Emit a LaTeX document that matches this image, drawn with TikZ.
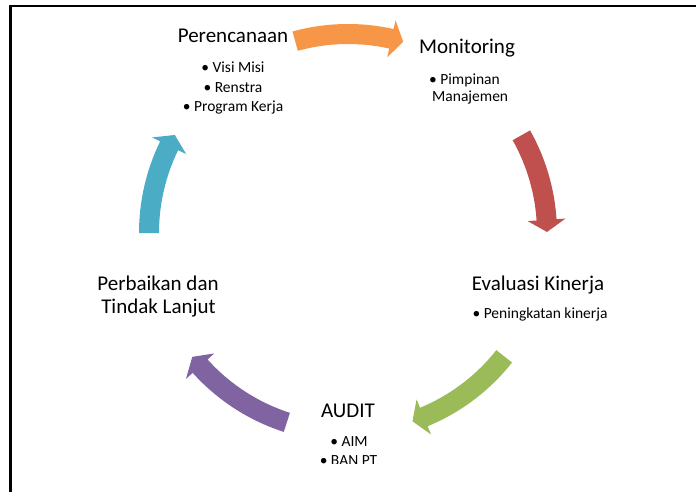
\documentclass[tikz,border=0pt]{standalone}
\usepackage{fontspec}
\setmainfont{Carlito}
\definecolor{arOrange}{HTML}{F79646}
\definecolor{arRed}{HTML}{C0504D}
\definecolor{arGreen}{HTML}{9BBB59}
\definecolor{arPurple}{HTML}{8064A2}
\definecolor{arBlue}{HTML}{4BACC6}
% curved block arrow on the cycle: colour, tail angle, tip angle
\newcommand\cyclearrow[3]{%
  \fill[#1] (#2:209pt) arc[start angle=#2, end angle=#3+3.5, radius=209pt]
    -- (#3+3.5:218pt) -- (#3:199pt) -- (#3+3.5:180pt) -- (#3+3.5:189pt)
    arc[start angle=#3+3.5, end angle=#2, radius=189pt] -- cycle;}
\begin{document}
\begin{tikzpicture}[x=1pt,y=1pt,
  title/.style={font=\fontsize{21}{25}\selectfont, anchor=base, inner sep=0pt},
  item/.style={font=\fontsize{15.5}{19}\selectfont, anchor=base, inner sep=0pt}]
\useasboundingbox (0,0) rectangle (696,-492);
\fill[white] (0,0) rectangle (696,-492);
% frame lines
\draw[line width=2.5pt] (9,-6.2) -- (696,-6.2);
\draw[line width=3pt] (10.5,-5) -- (10.5,-492);
% cycle arrows
\begin{scope}[shift={(348,-233)}]
  \cyclearrow{arOrange}{105.4}{73.9}
  \cyclearrow{arRed}{29.4}{0.3}
  \cyclearrow{arGreen}{-38.3}{-71.1}
  \cyclearrow{arPurple}{-107.9}{-141.5}
  \cyclearrow{arBlue}{180}{150.5}
\end{scope}
% Perencanaan
\node[title] (plan) at (233,-43) {Perencanaan};
\node[item] (plan1) at (233,-73) {• Visi Misi};
\node[item] (plan2) at (233,-93) {• Renstra};
\node[item] (plan3) at (233,-112) {• Program Kerja};
% Monitoring
\node[title] (mon) at (467,-54) {Monitoring};
\node[item, anchor=base west] (mon1) at (429,-85) {• Pimpinan};
\node[item, anchor=base west] (mon2) at (432,-102) {Manajemen};
% Evaluasi Kinerja
\node[title] (eval) at (538,-290) {Evaluasi Kinerja};
\node[item] (eval1) at (540,-318) {• Peningkatan kinerja};
% AUDIT
\node[title] (audit) at (348,-417) {AUDIT};
\node[item] (audit1) at (349,-446) {• AIM};
\begin{scope}
  \clip (250,-450) rectangle (450,-463.5);
  \node[item] (audit2) at (348.5,-465) {• BAN PT};
\end{scope}
% Perbaikan dan Tindak Lanjut
\node[title] (fix1) at (158,-290) {Perbaikan dan};
\node[title] (fix2) at (158.5,-313) {Tindak Lanjut};
\end{tikzpicture}
\end{document}
